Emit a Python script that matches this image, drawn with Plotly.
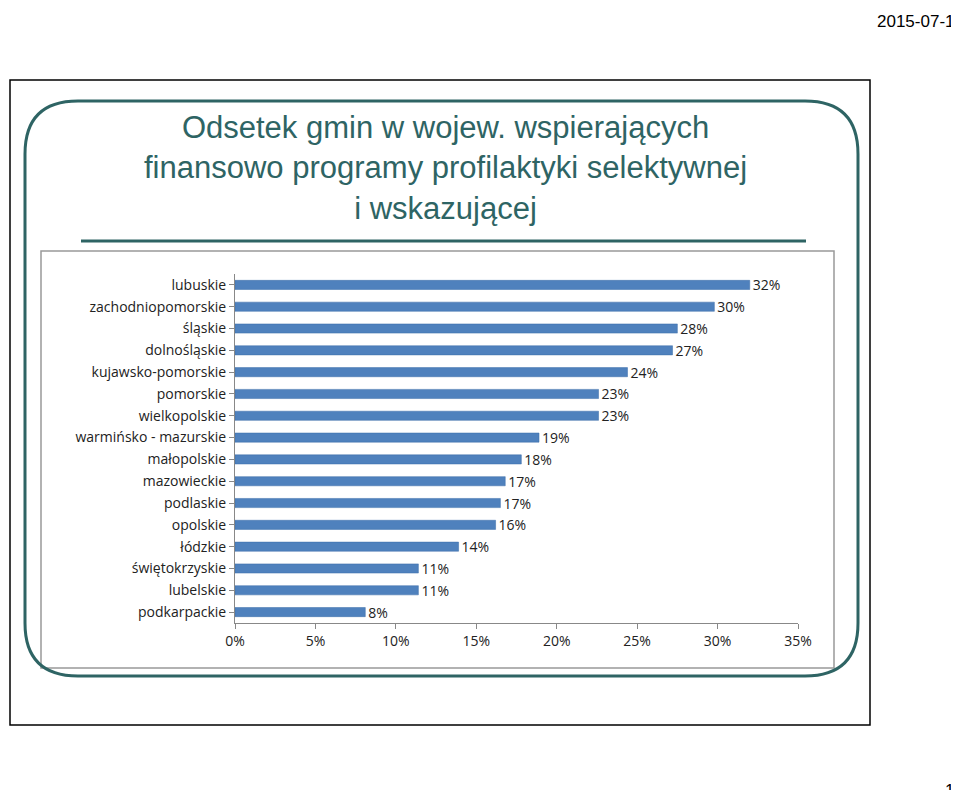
import plotly.graph_objects as go

regions = ["lubuskie", "zachodniopomorskie", "śląskie", "dolnośląskie", "kujawsko-pomorskie",
           "pomorskie", "wielkopolskie", "warmińsko - mazurskie", "małopolskie", "mazowieckie",
           "podlaskie", "opolskie", "łódzkie", "świętokrzyskie", "lubelskie", "podkarpackie"]
values = [0.32, 0.298, 0.275, 0.272, 0.244, 0.226, 0.226, 0.189, 0.178, 0.168,
          0.165, 0.162, 0.139, 0.114, 0.114, 0.081]
labels = ["32%", "30%", "28%", "27%", "24%", "23%", "23%", "19%", "18%", "17%",
          "17%", "16%", "14%", "11%", "11%", "8%"]
x_ticks = [0, 0.05, 0.10, 0.15, 0.20, 0.25, 0.30, 0.35]

W, H = 959, 790
px = lambda x: x / W
py = lambda y: 1 - y / H

fig = go.Figure(go.Bar(
    x=values, y=regions, orientation="h",
    marker=dict(color="#4F81BD", line=dict(color="#3A6CA8", width=0.5)),
    text=labels, textposition="outside", cliponaxis=False, constraintext="none",
    textfont=dict(family="Open Sans", size=14, color="#222"),
    width=0.42,
))

teal = "#2E6464"
shapes = [
    dict(type="rect", xref="paper", yref="paper", x0=px(2), x1=px(862), y0=py(717), y1=py(72),
         line=dict(color="black", width=1.5)),
    dict(type="path", xref="paper", yref="paper",
         path="M {a},{b} L {c},{b} Q {d},{b} {d},{e} L {d},{f} Q {d},{g} {c},{g} L {a},{g} Q {h},{g} {h},{f} L {h},{e} Q {h},{b} {a},{b} Z".format(
             a=px(70), c=px(797), d=px(850), h=px(17), b=py(93), e=py(146), f=py(615), g=py(668)),
         line=dict(color=teal, width=3)),
    dict(type="line", xref="paper", yref="paper", x0=px(73), x1=px(798), y0=py(233), y1=py(233),
         line=dict(color=teal, width=3)),
    dict(type="rect", xref="paper", yref="paper", x0=px(33), x1=px(826), y0=py(660), y1=py(243),
         line=dict(color="#999", width=1.5), fillcolor="white", layer="below"),
]

annotations = [
    dict(text="Odsetek gmin w wojew. wspierających<br>finansowo programy profilaktyki selektywnej<br>i wskazującej",
         xref="paper", yref="paper", x=px(437), y=py(100), xanchor="center", yanchor="top",
         showarrow=False, font=dict(family="Liberation Sans", size=31, color=teal)),
    dict(text="2015-07-15", xref="paper", yref="paper", x=px(958), y=py(2), xanchor="right", yanchor="top",
         showarrow=False, font=dict(family="Liberation Sans", size=17, color="black")),
    dict(text="15", xref="paper", yref="paper", x=px(958), y=py(782), xanchor="right", yanchor="middle",
         showarrow=False, font=dict(family="Liberation Sans", size=17, color="black")),
]

fig.update_layout(
    width=W, height=H, margin=dict(l=0, r=0, t=0, b=0, autoexpand=False),
    paper_bgcolor="white", plot_bgcolor="white", showlegend=False,
    shapes=shapes, annotations=annotations,
    xaxis=dict(domain=[px(227), px(790)], range=[0, 0.35], tickvals=x_ticks, tickformat=".0%",
               automargin=False, showgrid=False, zeroline=False, showline=True, linecolor="#888",
               ticks="outside", tickcolor="#888", ticklen=5,
               tickfont=dict(family="Open Sans", size=14, color="#222")),
    yaxis=dict(domain=[py(615), py(266)], autorange="reversed", showline=True, linecolor="#888",
               automargin=False, ticks="outside", tickcolor="#888", ticklen=5,
               tickfont=dict(family="Open Sans", size=14, color="#222")),
)

fig.write_html("out.html")
